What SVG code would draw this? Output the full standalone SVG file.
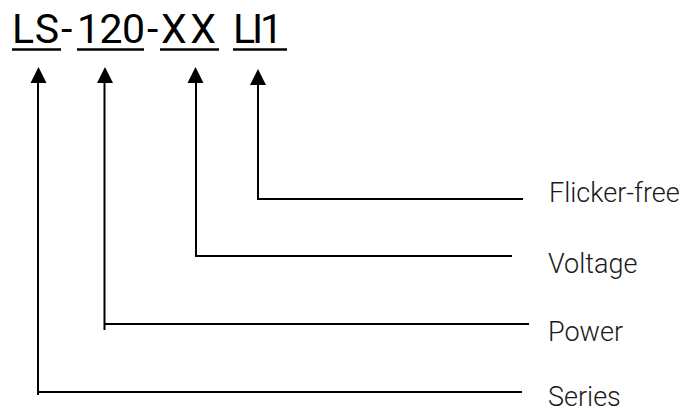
<svg xmlns="http://www.w3.org/2000/svg" width="687" height="414" viewBox="0 0 687 414">
<style>
.t{font-family:Roboto,"Noto Sans","Liberation Sans",sans-serif;font-size:41px;font-weight:400;fill:#000}
.lbl{font-family:Roboto,"Noto Sans","Liberation Sans",sans-serif;font-size:27px;font-weight:300;fill:#1a1a1a}
.ul{stroke:#000;stroke-width:2.4}
.c{fill:none;stroke:#000;stroke-width:2}
</style>
<defs>
<path id="arr" d="M-8,16 L0,0 L8,16 Z" fill="#000"/>
</defs>
<rect width="687" height="414" fill="#fff"/>
<g id="code">
<text class="t" x="12" y="43" textLength="47" lengthAdjust="spacing">LS</text>
<text class="t" x="61" y="43">-</text>
<text class="t" x="77" y="43" textLength="68" lengthAdjust="spacing">120</text>
<text class="t" x="147" y="43">-</text>
<text class="t" x="161" y="43" textLength="55" lengthAdjust="spacing">XX</text>
<text class="t" x="233" y="43" textLength="50" lengthAdjust="spacing">LI1</text>
<line class="ul" x1="12" y1="49.5" x2="61" y2="49.5"/>
<line class="ul" x1="77" y1="49.5" x2="144" y2="49.5"/>
<line class="ul" x1="160" y1="49.5" x2="219" y2="49.5"/>
<line class="ul" x1="233" y1="49.5" x2="287" y2="49.5"/>
</g>
<g id="connectors">
<polyline class="c" points="38,82 38,395 38,392 522,392"/>
<polyline class="c" points="104.5,82 104.5,330 104.5,324 529,324"/>
<polyline class="c" points="196,82 196,256 512,256"/>
<polyline class="c" points="258,84 258,199 523,199"/>
<use href="#arr" x="38.5" y="67"/>
<use href="#arr" x="105" y="67"/>
<use href="#arr" x="195.5" y="67"/>
<use href="#arr" x="258" y="69"/>
</g>
<g id="label-flicker"><text class="lbl" x="549" y="202">Flicker-free</text></g>
<g id="label-voltage"><text class="lbl" x="548" y="273">Voltage</text></g>
<g id="label-power"><text class="lbl" x="548" y="341">Power</text></g>
<g id="label-series"><text class="lbl" x="548" y="406">Series</text></g>
</svg>
